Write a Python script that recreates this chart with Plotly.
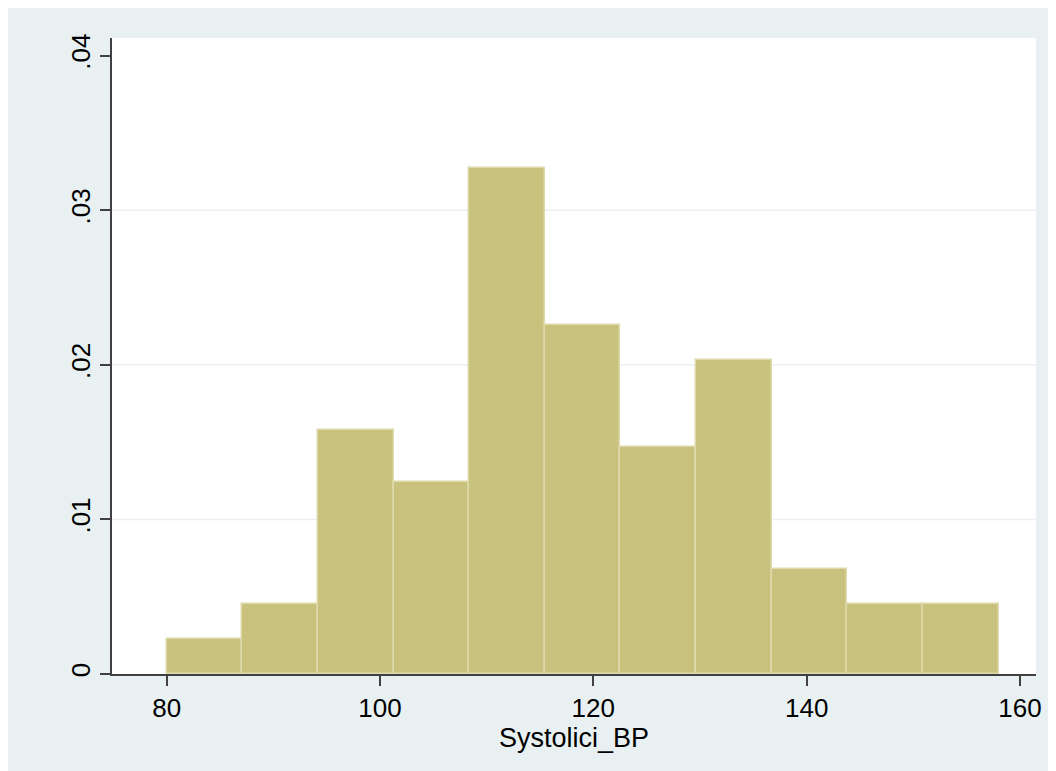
import plotly.graph_objects as go

# Data (density scale)
bin_start = 80.0
bin_end = 158.0
densities = [0.00226, 0.00451, 0.0158, 0.0124, 0.0327, 0.0226, 0.0147, 0.0203, 0.00677, 0.00451, 0.00451]
x_ticks = [80, 100, 120, 140, 160]
y_ticks = [0, 0.01, 0.02, 0.03, 0.04]
y_tick_labels = ["0", ".01", ".02", ".03", ".04"]
x_title = "Systolici_BP"

n = len(densities)
w = (bin_end - bin_start) / n
centers = [bin_start + w * (i + 0.5) for i in range(n)]

BG = "#E8F0F2"
fig = go.Figure()
fig.add_trace(go.Bar(
    x=centers, y=densities, width=[w] * n,
    marker=dict(color="#C9C27F", line=dict(color="#DEDAAC", width=1.5)),
    hoverinfo="skip",
))

for yv in y_ticks[1:4]:
    fig.add_shape(type="line", xref="paper", x0=0, x1=1, yref="y", y0=yv, y1=yv,
                  line=dict(color=BG, width=1.5), layer="below")

fig.update_layout(
    width=1056, height=771,
    paper_bgcolor=BG, plot_bgcolor="white",
    margin=dict(l=104, r=28, t=30, b=105),
    showlegend=False, bargap=0,
    font=dict(family="Liberation Sans, Arial, sans-serif", size=26, color="black"),
)
fig.update_xaxes(
    range=[74.88, 161.5], tickvals=x_ticks, ticks="outside", ticklen=10, tickwidth=2,
    tickcolor="#404040", showline=True, linecolor="#404040", linewidth=2,
    showgrid=False, zeroline=False,
    title=dict(text=x_title, font=dict(size=27), standoff=0),
    tickfont=dict(size=26),
)
fig.update_yaxes(
    range=[0, 0.04114], tickvals=y_ticks, ticktext=y_tick_labels, ticks="outside",
    ticklen=10, tickwidth=2, tickcolor="#404040", showline=True, linecolor="#404040",
    linewidth=2, showgrid=False, zeroline=False, tickangle=-90,
    tickfont=dict(size=26),
)
fig.write_html("out.html")
